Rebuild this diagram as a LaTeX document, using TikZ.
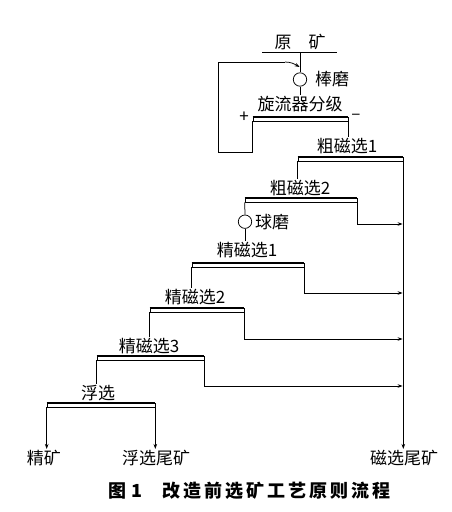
\documentclass[tikz,border=0pt]{standalone}
\usepackage{fontspec}
\setmainfont{Noto Sans CJK SC}
\usetikzlibrary{arrows.meta}
\tikzset{
  flow/.style={line width=0.75pt},
  arr/.style={flow,-{Stealth[length=5pt,width=3.6pt]}},
  lbl/.style={inner sep=1pt,font=\fontsize{17}{17}\selectfont},
  sepbar/.style={rectangle,draw,line width=0.6pt,minimum height=4pt,inner sep=0pt},
  bartop/.style={line width=1.8pt,line cap=butt},
  mill/.style={circle,draw,line width=0.75pt,minimum size=13.4pt,inner sep=0pt},
  capt/.style={inner sep=0pt,font=\bfseries\fontsize{18}{18}\selectfont}
}
\newcommand{\sepbarnode}[4]{% name, cx, top, width
  \node[sepbar,minimum width=#4pt] (#1) at (#2,#3+2) {};
  \draw[bartop] ([yshift=-0.3pt]#1.north west) -- ([yshift=-0.3pt]#1.north east);
}
\newcommand{\ck}{\kern3pt}
\begin{document}
\begin{tikzpicture}[x=1pt,y=-1pt]
\useasboundingbox[fill=white] (0,0) rectangle (451,512);

% feed
\node[lbl] (ore) at (300,42) {原\hspace{1em}矿};
\coordinate (fL) at (262,52);
\coordinate (fR) at (337,52);
\coordinate (fM) at (300,52);
\draw[flow] (fL) -- (fR);
\node[mill] (rm) at (300,79.5) {};
\node[lbl] (rml) at (332,79) {棒磨};
\draw[flow] (fM) -- (rm.north);

% cyclone
\node[lbl] (cycl) at (300,104.5) {旋流器分级};
\draw[flow] (rm.south) -- (cycl.north);
\sepbarnode{cyc}{300.5}{117}{95}
\node[lbl] (plus) at (244,117) {+};
\node[lbl] (minus) at (356,117) {–};

% recycle (underflow)
\coordinate (r1) at (218,152);
\coordinate (r2) at (218,62);
\coordinate (r3) at (285,62);
\coordinate (r4) at (299.6,67);
\draw[flow] (cyc.south west) |- (r1) -- (r2) -- (r3);
\draw[arr] (r3) to[out=0,in=150] (r4);

% rougher 1
\node[lbl] (c1l) at (347,146.5) {粗磁选1};
\draw[flow] (cyc.south east) -- (cyc.south east |- c1l.north);
\sepbarnode{c1}{350.5}{157}{105}

% magnetic tailings main line
\node[lbl] (tailM) at (404,458) {磁选尾矿};
\draw[arr] (c1.south east) -- (c1.south east |- tailM.north);

% rougher 2
\node[lbl] (c2l) at (300,188) {粗磁选2};
\draw[flow] (c1.south west) -- (c1.south west |- c2l.north);
\sepbarnode{c2}{301}{198}{112}
\coordinate (a1) at (402.6,224);
\draw[arr] (c2.south east) |- (a1);

% ball mill
\node[mill] (bm) at (245,221.7) {};
\node[lbl] (bml) at (272,222) {球磨};
\draw[flow] (c2.south west) -- (bm.north);

% cleaner 1
\node[lbl] (j1l) at (247,250.5) {精磁选1};
\draw[flow] (bm.south) -- (bm.south |- j1l.north);
\sepbarnode{j1}{248}{263}{112}
\coordinate (a2) at (402.6,293);
\draw[arr] (j1.south east) |- (a2);

% cleaner 2
\node[lbl] (j2l) at (195,297) {精磁选2};
\draw[flow] (j1.south west) -- (j1.south west |- j2l.north);
\sepbarnode{j2}{197}{308}{94}
\coordinate (a3) at (402.6,339);
\draw[arr] (j2.south east) |- (a3);

% cleaner 3
\node[lbl] (j3l) at (149,346) {精磁选3};
\draw[flow] (j2.south west) -- (j2.south west |- j3l.north);
\sepbarnode{j3}{150.5}{356}{107}
\coordinate (a4) at (402.6,386);
\draw[arr] (j3.south east) |- (a4);

% flotation
\node[lbl] (fll) at (98,393.5) {浮选};
\draw[flow] (j3.south west) -- (j3.south west |- fll.north);
\sepbarnode{fl}{101}{403}{108}
\node[lbl] (conc) at (44,458) {精矿};
\node[lbl] (ftail) at (156,458) {浮选尾矿};
\draw[arr] (fl.south west) -- (fl.south west |- conc.north);
\draw[arr] (fl.south east) -- (fl.south east |- ftail.north);

% caption
\node[capt,anchor=west] (cap) at (108,491) {图\hspace{5pt}1\hspace{20pt}改\ck 造\ck 前\ck 选\ck 矿\ck 工\ck 艺\ck 原\ck 则\ck 流\ck 程};
\end{tikzpicture}
\end{document}
